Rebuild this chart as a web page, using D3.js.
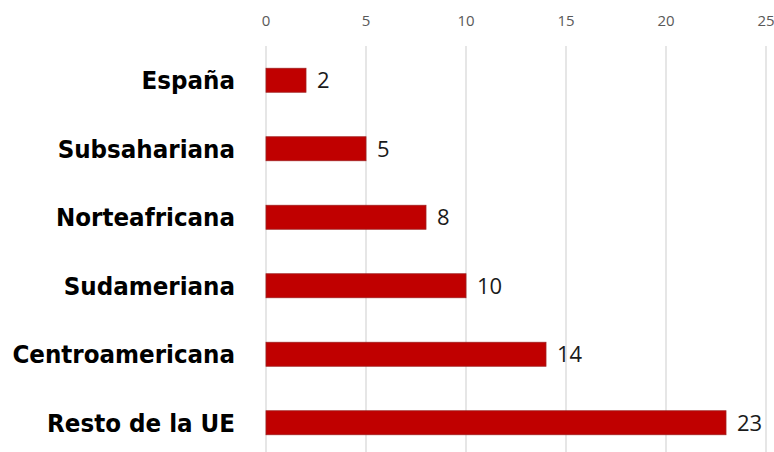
<!DOCTYPE html>
<html>
<head>
<meta charset="utf-8">
<script src="https://cdn.jsdelivr.net/npm/d3@7"></script>
<style>
  body { margin: 0; background: #fff; }
  svg { display: block; }
</style>
</head>
<body>
<svg id="chart"></svg>
<script>
const categories = ['España', 'Subsahariana', 'Norteafricana', 'Sudameriana', 'Centroamericana', 'Resto de la UE']
const values = [2, 5, 8, 10, 14, 23]
const tickValues = [0, 5, 10, 15, 20, 25]

const width = 774, height = 452

const svg = d3.select('#chart')
    .attr('width', width)
    .attr('height', height)

const x = d3.scaleLinear().domain([0, 25]).range([266, 766])
const y = d3.scaleBand()
    .domain(categories)
    .range([46, 457])
    .paddingInner(0.65)
    .paddingOuter(0.325)

// gridlines
svg.append('g')
    .selectAll('line')
    .data(tickValues)
    .join('line')
        .attr('x1', d => x(d)).attr('x2', d => x(d))
        .attr('y1', 46).attr('y2', height)
        .style('stroke', '#d9d9d9')
        .style('stroke-width', 1.3)

// top axis labels
svg.append('g')
    .selectAll('text')
    .data(tickValues)
    .join('text')
        .attr('x', d => x(d))
        .attr('y', 26)
        .attr('text-anchor', 'middle')
        .attr('font-family', 'Open Sans, sans-serif')
        .attr('font-size', 15)
        .style('fill', '#595959')
        .text(d => d)

// bars
svg.append('g')
    .selectAll('rect')
    .data(values)
    .join('rect')
        .attr('x', x(0))
        .attr('y', (d, i) => y(categories[i]))
        .attr('width', d => x(d) - x(0))
        .attr('height', y.bandwidth())
        .style('fill', '#c00000')
        .style('stroke', '#a02020')
        .style('stroke-width', 0.8)

// value labels
svg.append('g')
    .selectAll('text')
    .data(values)
    .join('text')
        .attr('x', d => x(d) + 11)
        .attr('y', (d, i) => y(categories[i]) + y.bandwidth() / 2)
        .attr('dy', '0.36em')
        .attr('font-family', 'Open Sans, sans-serif')
        .attr('font-size', 22)
        .style('fill', '#1a1a1a')
        .text(d => d)

// category labels
svg.append('g')
    .selectAll('text')
    .data(categories)
    .join('text')
        .attr('x', 235)
        .attr('y', d => y(d) + y.bandwidth() / 2)
        .attr('dy', '0.36em')
        .attr('text-anchor', 'end')
        .attr('font-family', '"DejaVu Sans Condensed", "DejaVu Sans", sans-serif')
        .attr('font-weight', 'bold')
        .attr('font-stretch', 'condensed')
        .attr('font-size', 25.6)
        .style('fill', '#000')
        .text(d => d)
</script>
</body>
</html>
